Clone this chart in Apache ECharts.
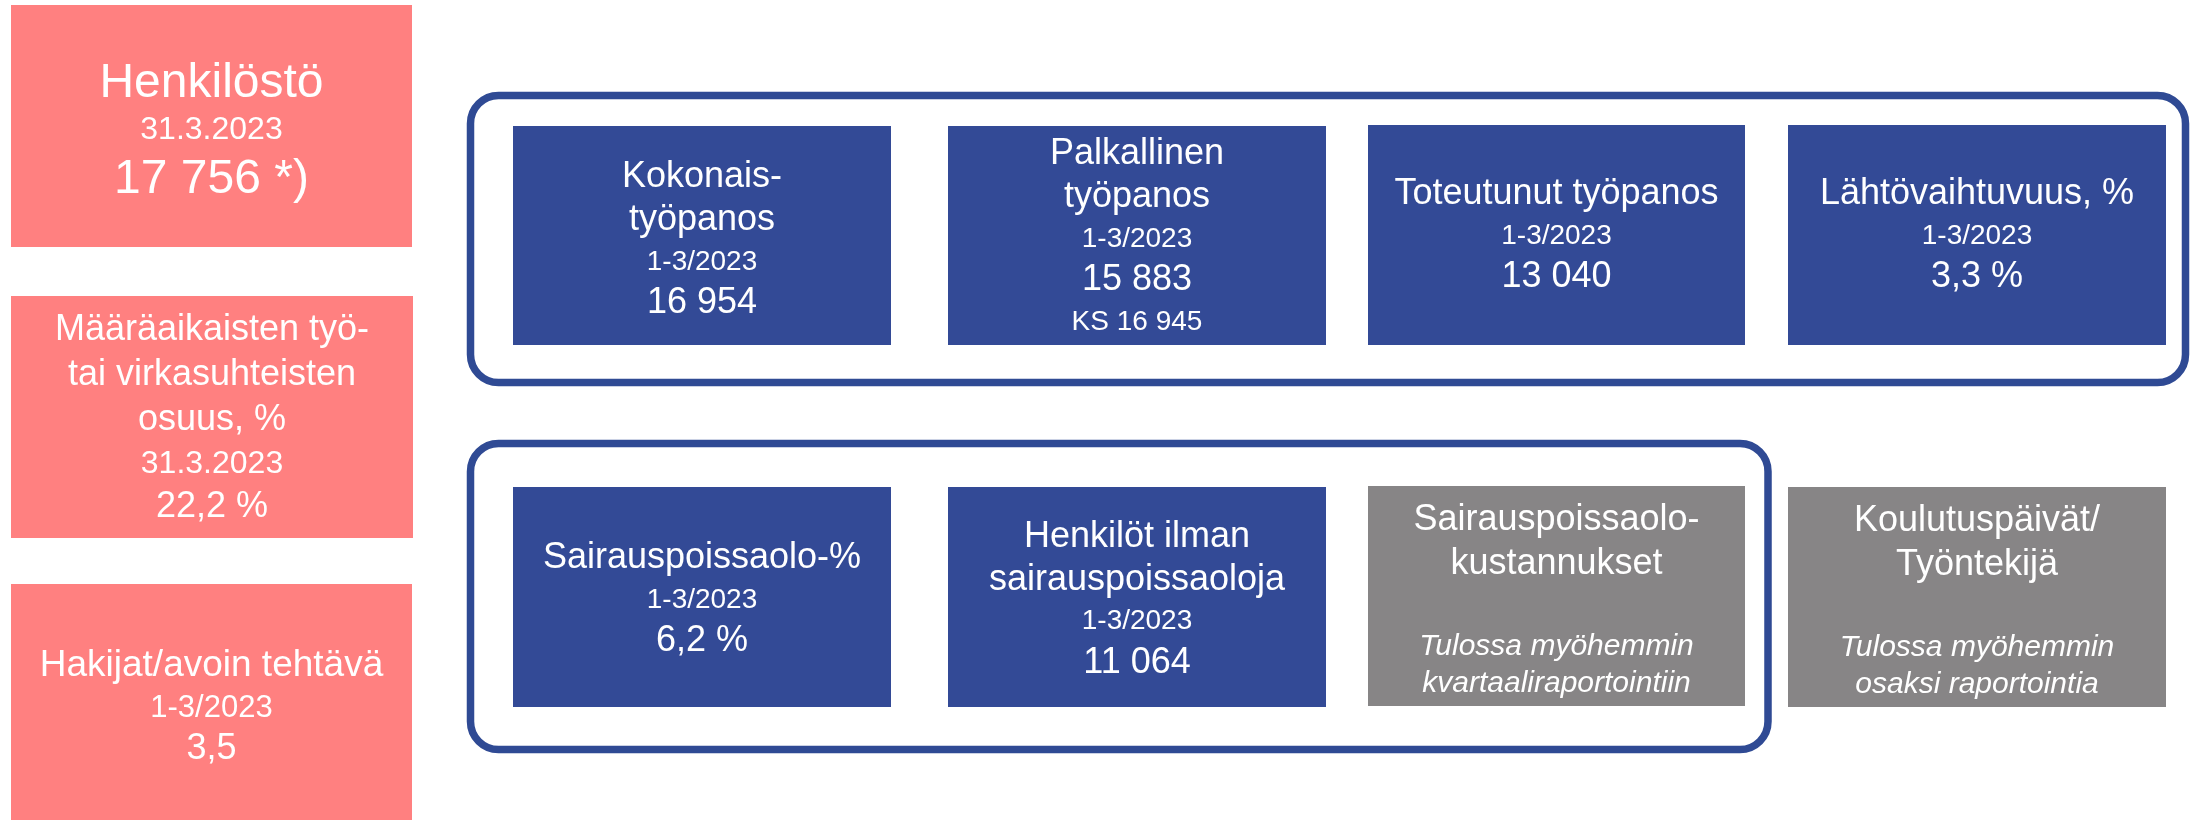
<!DOCTYPE html>
<html>
<head>
<meta charset="utf-8">
<script src="https://cdn.jsdelivr.net/npm/echarts@6/dist/echarts.min.js"></script>
<style>
  html, body { margin: 0; padding: 0; background: #ffffff; }
  #chart { width: 2193px; height: 820px; }
</style>
</head>
<body>
<div id="chart"></div>
<script>
// ---- Data (text content of the tiles) ----
const pinkTitles = [["Henkilöstö"], ["Määräaikaisten työ-", "tai virkasuhteisten", "osuus, %"], ["Hakijat/avoin tehtävä"]];
const pinkPeriods = ["31.3.2023", "31.3.2023", "1-3/2023"];
const pinkValues = ["17 756 *)", "22,2 %", "3,5"];

const blueTitles = [["Kokonais-", "työpanos"], ["Palkallinen", "työpanos"], ["Toteutunut työpanos"], ["Lähtövaihtuvuus, %"],
                    ["Sairauspoissaolo-%"], ["Henkilöt ilman", "sairauspoissaoloja"]];
const bluePeriods = ["1-3/2023", "1-3/2023", "1-3/2023", "1-3/2023", "1-3/2023", "1-3/2023"];
const blueValues = ["16 954", "15 883", "13 040", "3,3 %", "6,2 %", "11 064"];
const blueExtras = ["", "KS 16 945", "", "", "", ""];

const grayTitles = [["Sairauspoissaolo-", "kustannukset"], ["Koulutuspäivät/", "Työntekijä"]];
const grayNotes = [["Tulossa myöhemmin", "kvartaaliraportointiin"], ["Tulossa myöhemmin", "osaksi raportointia"]];

// ---- Layout (positions / sizes / styles) ----
const FONT = '"Liberation Sans", Arial, sans-serif';
const PINK = '#FF8080', BLUE = '#334A96', GRAY = '#878586', FRAME = '#2F4A94';

const pinkBoxes = [
  { x: 11, y: 5, w: 401, h: 242, dy: 7, rich: { t: [48, 47], d: [32, 46], v: [48, 53] } },
  { x: 11, y: 296, w: 402, h: 242, dy: 1, rich: { t: [36, 45], d: [32, 44], v: [36, 42] } },
  { x: 11, y: 584, w: 401, h: 236, dy: 5, rich: { t: [37, 42], d: [31, 42], v: [36, 40] } }
];
const blueBoxes = [
  { x: 513, y: 126, w: 378, h: 219, dy: 5 },
  { x: 948, y: 126, w: 378, h: 219, dy: 2 },
  { x: 1368, y: 125, w: 377, h: 220, dy: 1 },
  { x: 1788, y: 125, w: 378, h: 220, dy: 1 },
  { x: 513, y: 487, w: 378, h: 220, dy: 3 },
  { x: 948, y: 487, w: 378, h: 220, dy: 3 }
];
const grayBoxes = [
  { x: 1368, y: 486, w: 377, h: 220 },
  { x: 1788, y: 487, w: 378, h: 220 }
];
const frames = [
  { x: 470.5, y: 95.5, w: 1715, h: 287, r: 28 },
  { x: 470.5, y: 443.5, w: 1297.5, h: 306, r: 28 }
];

function richStyles(spec) {
  const out = {};
  Object.keys(spec).forEach(k => {
    out[k] = { fontSize: spec[k][0], lineHeight: spec[k][1], fontFamily: FONT, color: '#ffffff', align: 'center' };
  });
  return out;
}

const graphics = [];

frames.forEach(f => {
  graphics.push({
    type: 'rect', shape: { x: f.x, y: f.y, width: f.w, height: f.h, r: f.r },
    style: { fill: 'none', stroke: FRAME, lineWidth: 7.5 }, z: 1
  });
});

pinkBoxes.forEach((b, i) => {
  graphics.push({ type: 'rect', shape: { x: b.x, y: b.y, width: b.w, height: b.h }, style: { fill: PINK }, z: 2 });
  const lines = pinkTitles[i].map(s => '{t|' + s + '}');
  lines.push('{d|' + pinkPeriods[i] + '}');
  lines.push('{v|' + pinkValues[i] + '}');
  graphics.push({
    type: 'text', z: 3,
    style: { x: b.x + b.w / 2, y: b.y + b.h / 2 + b.dy, text: lines.join('\n'), align: 'center', verticalAlign: 'middle',
      fill: '#fff', font: '36px ' + FONT, rich: richStyles(b.rich) }
  });
});

const blueRich = richStyles({ t: [36, 43], d: [28, 40], v: [36, 43], k: [28, 40] });
blueBoxes.forEach((b, i) => {
  graphics.push({ type: 'rect', shape: { x: b.x, y: b.y, width: b.w, height: b.h }, style: { fill: BLUE }, z: 2 });
  const lines = blueTitles[i].map(s => '{t|' + s + '}');
  lines.push('{d|' + bluePeriods[i] + '}');
  lines.push('{v|' + blueValues[i] + '}');
  if (blueExtras[i]) lines.push('{k|' + blueExtras[i] + '}');
  graphics.push({
    type: 'text', z: 3,
    style: { x: b.x + b.w / 2, y: b.y + b.h / 2 + b.dy, text: lines.join('\n'), align: 'center', verticalAlign: 'middle',
      fill: '#fff', font: '36px ' + FONT, rich: blueRich }
  });
});

const grayTitleRich = richStyles({ t: [36, 44] });
const grayNoteRich = { n: { fontSize: 30, lineHeight: 37, fontFamily: FONT, fontStyle: 'italic', color: '#ffffff', align: 'center' } };
grayBoxes.forEach((b, i) => {
  graphics.push({ type: 'rect', shape: { x: b.x, y: b.y, width: b.w, height: b.h }, style: { fill: GRAY }, z: 2 });
  graphics.push({
    type: 'text', z: 3,
    style: { x: b.x + b.w / 2, y: b.y + 56, text: grayTitles[i].map(s => '{t|' + s + '}').join('\n'),
      align: 'center', verticalAlign: 'middle', fill: '#fff', font: '36px ' + FONT, rich: grayTitleRich }
  });
  graphics.push({
    type: 'text', z: 3,
    style: { x: b.x + b.w / 2, y: b.y + 179, text: grayNotes[i].map(s => '{n|' + s + '}').join('\n'),
      align: 'center', verticalAlign: 'middle', fill: '#fff', font: 'italic 30px ' + FONT, rich: grayNoteRich }
  });
});

const chart = echarts.init(document.getElementById('chart'), null, { renderer: 'canvas', width: 2193, height: 820 });
chart.setOption({
  backgroundColor: '#ffffff',
  animation: false,
  graphic: { elements: graphics }
});
</script>
</body>
</html>
